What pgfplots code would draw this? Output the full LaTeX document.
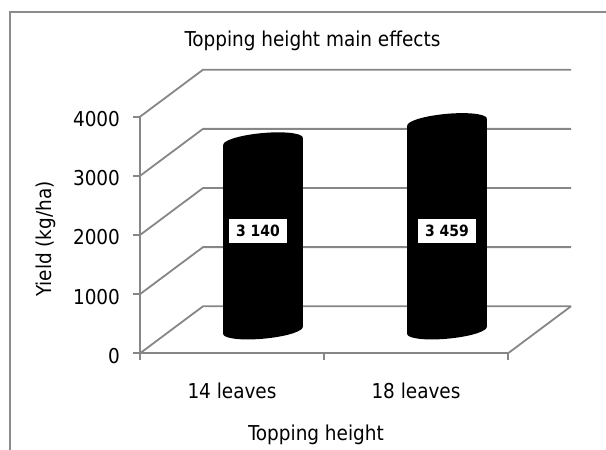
\documentclass[border=0pt]{standalone}
\usepackage{pgfplots}
\pgfplotsset{compat=1.18}
\usepackage{pgfplotstable}
\usepackage{fontspec}
\setmainfont{DejaVu Sans Condensed}
\definecolor{gridc}{RGB}{134,134,134}
\definecolor{framec}{RGB}{140,140,140}
\newcommand\fs{\fontsize{20.5}{24}\selectfont}

\pgfplotstableread{
x y lx ly
92 3140 87 1651
276 3459 276 1651
}\cyldata

\pgfdeclareplotmark{cyl}{%
  \pgfkeys{/pgf/fpu=true,/pgf/fpu/output format=fixed}%
  \pgfmathparse{\cylh*0.0602}\global\let\cylHg\pgfmathresult
  \pgfkeys{/pgf/fpu=false}%
  \let\cylH\cylHg
  \pgfmathsetmacro{\cylL}{-\cylH-3.47}%
  \pgfmathsetmacro{\cylR}{-\cylH+3.47}%
  \pgfmathsetmacro{\cylB}{-\cylH}%
  \pgfpathellipse{\pgfpointorigin}{\pgfpoint{38pt}{0.8pt}}{\pgfpoint{12pt}{9pt}}%
  \pgfusepathqfill
  \pgfpathellipse{\pgfpoint{0pt}{\cylB pt}}{\pgfpoint{38pt}{0.8pt}}{\pgfpoint{12pt}{9pt}}%
  \pgfusepathqfill
  \pgfpathmoveto{\pgfpoint{-39.85pt}{-3.47pt}}%
  \pgfpathlineto{\pgfpoint{-39.85pt}{\cylL pt}}%
  \pgfpathlineto{\pgfpoint{39.85pt}{\cylR pt}}%
  \pgfpathlineto{\pgfpoint{39.85pt}{3.47pt}}%
  \pgfpathclose
  \pgfusepathqfill
}

\begin{document}
\begin{tikzpicture}
\begin{axis}[
  at={(0pt,0pt)}, anchor=south west,
  x=1pt, y=0.05915pt,
  xmin=0, xmax=368, ymin=0, ymax=4000,
  axis lines=left,
  axis line style={gridc, line width=1.8pt, -},
  clip=false,
  tick align=outside,
  major tick length=6.5pt,
  tick style={gridc, line width=1.8pt},
  ytick={0,1000,2000,3000,4000},
  xtick={0,184,368}, xticklabels={},
  extra x ticks={92,276},
  extra x tick labels={14 leaves,18 leaves},
  extra x tick style={major tick length=0pt},
  /pgf/number format/assume math mode=true,
  /pgf/number format/1000 sep={},
  tick label style={font=\fs, text=black},
  yticklabel style={xshift=-10pt, yshift=-2.5pt},
  xticklabel style={anchor=base, yshift=-45pt},
  title={Topping height main effects},
  title style={at={(axis cs:172.5,5190)}, anchor=center, font=\fs},
  xlabel={Topping height},
  xlabel style={at={(axis cs:176,-1374)}, anchor=center, font=\fs},
  ylabel={Yield (kg/ha)},
  ylabel style={at={(axis cs:-94,1932)}, anchor=center, font=\fs},
]
\addplot[gridc, line width=1.8pt, mark=none] coordinates {(0,0) (63,795) (431,795)};
\addplot[gridc, line width=1.8pt, mark=none] coordinates {(0,1000) (63,1795) (431,1795)};
\addplot[gridc, line width=1.8pt, mark=none] coordinates {(0,2000) (63,2795) (431,2795)};
\addplot[gridc, line width=1.8pt, mark=none] coordinates {(0,3000) (63,3795) (431,3795)};
\addplot[gridc, line width=1.8pt, mark=none] coordinates {(0,4000) (63,4795) (431,4795)};
\addplot[gridc, line width=1.8pt, mark=none] coordinates {(368,0) (431,795)};
\end{axis}
\begin{axis}[
  at={(31pt,22.9pt)}, anchor=south west,
  x=1pt, y=0.0602pt,
  xmin=0, xmax=368, ymin=0, ymax=4000,
  hide axis, clip=false,
]
\addplot[only marks, mark=cyl, black,
  visualization depends on={\thisrow{y} \as \cylh}]
  table[x=x, y=y]{\cyldata};
\addplot[draw=none, mark=none, point meta=explicit,
  nodes near coords={\pgfmathprintnumber[fixed, precision=0, 1000 sep={\ }, assume math mode=true]{\pgfplotspointmeta}},
  nodes near coords align=center,
  every node near coord/.append style={fill=white, inner xsep=7pt, inner ysep=6pt,
    font=\fontsize{15.5}{18}\selectfont\bfseries, text=black, anchor=center}]
  table[x=lx, y=ly, meta=y]{\cyldata};
\end{axis}
\draw[framec, line width=2.6pt] (-130pt,-120pt) -- (-130pt,341.3pt) -- (480pt,341.3pt);
\pgfresetboundingbox
\path[use as bounding box] (-140pt,-96.7pt) rectangle (466pt,353.3pt);
\end{tikzpicture}
\end{document}
